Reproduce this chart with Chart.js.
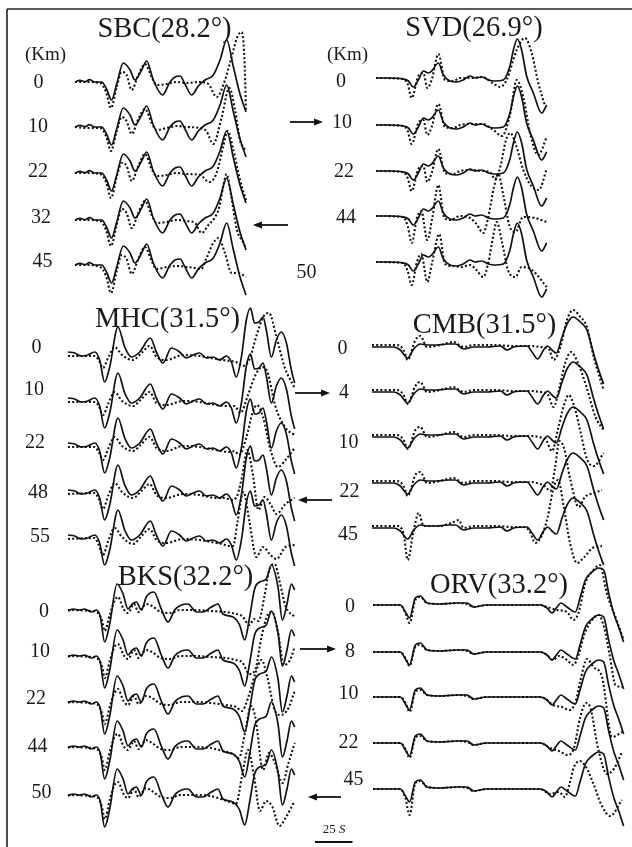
<!DOCTYPE html>
<html><head><meta charset="utf-8">
<script src="https://cdn.jsdelivr.net/npm/chart.js@4.4.1/dist/chart.umd.min.js"></script>
<style>
html,body{margin:0;padding:0;background:#fff;}
#wrap{position:relative;width:632px;height:847px;overflow:hidden;background:#fff;}
canvas{position:absolute;left:0;top:0;}
svg{position:absolute;left:0;top:0;}
text{font-family:"Liberation Serif","Times New Roman",serif;fill:#1a1a1a;}
</style></head><body><div id="wrap"></div>
<script>
// ---------- DATA: [time (s), amplitude] ----------
const TITLES = ["SBC(28.2°)","SVD(26.9°)","MHC(31.5°)","CMB(31.5°)","BKS(32.2°)","ORV(33.2°)"];
const SBC_DEPTHS = ["0","10","22","32","45"];
const SVD_DEPTHS = ["0","10","22","44","50"];
const MHC_DEPTHS = ["0","10","22","48","55"];
const CMB_DEPTHS = ["0","4","10","22","45"];
const BKS_DEPTHS = ["0","10","22","44","50"];
const ORV_DEPTHS = ["0","8","10","22","45"];
const UNIT_LABEL = "(Km)";
const SCALE_LABEL = "25";

// SBC
const SBC_OBS = [[0,0],[3.3,1.7],[6.7,0.3],[9.6,2.3],[13.3,0],[17.8,0],[21,-7],[24.4,-18],[27.8,-2],[32.2,19],[36.7,12],[40,2],[44.4,12],[47.8,21],[52.2,2],[58.4,-13],[63.3,0],[66.7,5],[70,6],[73.3,-2],[77.8,-13],[82.2,-4],[86.7,2],[92.2,7],[96.7,22],[101.1,42],[105.6,15],[110,-12],[114,-30]];
const SBC_SYN_0 = [[0,0],[7.8,0],[16.7,-1],[20.7,-10],[24,-26],[27.8,-5],[31.1,10],[34.4,7],[37.8,-8],[42.2,7],[46.7,18],[51.1,5],[54.4,-3],[61.1,-2],[67.8,0],[74.4,-1],[83.3,0],[88.9,-2],[94.4,-15],[100,2],[104.4,25],[108.2,45],[111.1,50],[112.9,25],[114,-28]];
const SBC_SYN_10 = [[0,0],[7.8,-1],[16.7,-1],[20.7,-9],[24,-24],[27.8,-4],[31.1,10],[34.4,6],[37.8,-7],[42.2,8],[46.7,18],[51.1,4],[54.4,-3],[61.1,-1],[67.8,1],[74.4,0],[83.3,-1],[87.5,-4],[92.2,-17],[97.8,10],[102.9,39],[106.7,17],[110,-13],[114,-24]];
const SBC_SYN_22 = [[0,0],[7.8,0],[16.7,-1],[20.7,-9],[24,-25],[27.8,-4],[31.1,10],[34.4,7],[37.8,-8],[42.2,7],[46.7,19],[51.1,4],[54.4,-3],[61.1,-2],[67.8,0],[74.4,-1],[83.3,-2],[89.6,-9],[94.4,0],[98.9,27],[101.8,42],[105.6,23],[110,-7],[114,-27]];
const SBC_SYN_32 = [[0,0],[7.8,0],[16.7,-1],[20.7,-10],[24,-26],[27.8,-5],[31.1,11],[34.4,7],[37.8,-8],[42.2,7],[46.7,19],[51.1,5],[54.4,-3],[61.1,-2],[67.8,0],[74.4,-1],[80,-3],[84.4,-13],[89,-5],[93,2],[96,12],[99,35],[101,46],[104,25],[108,-10],[112,-22],[114,-28]];
const SBC_SYN_45 = [[0,0],[7.8,0],[16.7,-2],[20.7,-11],[24,-28],[27.8,-6],[31.1,10],[34.4,6],[37.8,-9],[42.2,6],[46.7,18],[51.1,4],[54.4,-4],[61.1,-2],[67.8,-1],[74.4,-2],[80,-3],[84,-4],[88,8],[92.2,22],[95.6,27],[100,12],[104.4,-8],[108.9,-8],[114,-12]];

// SVD
const SVD_OBS = [[0,0],[9.3,0],[18,-1],[21.6,-3],[24.9,-9],[28.2,-2],[31.6,7],[34.9,5],[37.1,7],[41.6,15],[44.9,3],[49.3,-3],[53.8,-4],[58.2,-2],[62.7,2],[66,0],[70.4,1],[74.9,-2],[79.3,-3],[84.9,-2],[89.3,12],[91.6,28],[94.2,39],[97.1,28],[100.4,2],[104.9,-15],[110.4,-35],[113.8,-27]];
const SVD_SYN_0 = [[0,0],[18,-1],[21.1,-6],[23.8,-20],[28.2,2],[31.6,5],[34.2,-10],[37.1,-2],[41.6,24],[46,-2],[51.6,-3],[56,0],[62.7,0],[71.1,1],[77.8,-5],[82.7,-9],[87.1,-2],[93.8,28],[99.3,40],[103.8,25],[108.2,-5],[112.7,-28]];
const SVD_SYN_10 = [[0,0],[18,-1],[21.1,-6],[23.8,-19],[28.2,2],[31.6,5],[34.2,-10],[37.1,-2],[41.6,21],[46,-2],[51.6,-3],[56,0],[62.7,1],[71.1,1],[78.2,-5],[84,-11],[89.3,10],[93.8,45],[98.2,28],[102.7,-8],[108.2,-30],[113.8,-12]];
const SVD_SYN_22 = [[0,0],[18,-1],[21.1,-7],[23.8,-20],[28.2,2],[31.6,5],[34.2,-11],[37.1,-2],[41.6,22],[46,-2],[51.6,-3],[56,0],[62.7,1],[71.1,0],[76,-1],[79.3,-8],[83,5],[86.5,30],[89.5,38],[93.5,25],[98,2],[103,-14],[108.5,-19],[113.8,2]];
const SVD_SYN_44 = [[0,0],[18,-1],[21.1,-10],[23.8,-27],[27.3,-2],[30.2,5],[34.2,-24],[37.5,-2],[41.6,31],[45.5,-2],[50,-4],[56,0],[62.7,-2],[67,-8],[71.5,-17],[75,0],[78.5,28],[81.5,42],[85,20],[89,-10],[93,-16],[98,-1],[106,-2],[113.8,-6]];
const SVD_SYN_50 = [[0,0],[18,-1],[21.1,-9],[23.8,-23],[27.3,0],[30.2,8],[34.2,-20],[37.5,0],[42.2,28],[46,-2],[51,-4],[57,-5],[62.7,-3],[67,-8],[71.5,-15],[75,0],[78,25],[80.5,40],[84,20],[88,-8],[93,-15],[97,-5],[104,-8],[113.8,-25]];

// MHC
const MHC_OBS = [[0,2],[4.4,1],[8.9,-2],[13.3,-1],[17.8,2],[21.1,-6],[24.4,-28],[27.8,-13],[33.3,27],[37.8,7],[42.2,-3],[47.8,2],[54.9,16],[58.9,2],[63.3,-9],[68.9,6],[74.4,2],[78.9,-4],[83.3,-1],[87.8,1],[92.2,-4],[96.7,-3],[101.1,-6],[105.6,-2],[108.9,-8],[112.2,-23],[115.6,-3],[118.9,34],[121.6,46],[124.4,31],[127.3,32],[130,37],[132.2,24],[135.6,-3],[138.9,14],[142.2,22],[145.6,11],[148.9,-16],[151.1,-29]];
const MHC_SYN_0 = [[0,-2],[17.8,-2],[20.5,-6],[23.3,-14],[27,-3],[31.1,7],[36,-1],[43.3,-6],[49,1],[54.4,8],[59,-3],[65.6,-6],[76.7,-1],[87.8,-2],[98.9,-5],[107.8,-7],[112,-8],[116.5,-12],[121,-5],[126,20],[130.5,38],[134,41],[139,17],[144.4,-13],[151.1,-34]];
const MHC_SYN_10 = [[0,-2],[17.8,-2],[20.5,-6],[23.3,-15],[27,-3],[31.1,8],[36,-1],[43.3,-6],[49,1],[54.4,8],[59,-3],[65.6,-5],[76.7,-1],[87.8,-2],[98.9,-5],[107.8,-6],[111,-6],[115,-13],[120,5],[125,25],[129.5,33],[133,28],[138,-5],[145,-28],[151.1,-35]];
const MHC_SYN_22 = [[0,-2],[17.8,-2],[20.5,-7],[23.3,-15],[27,-3],[31.1,8],[36,-1],[43.3,-6],[49,1],[54.4,8],[59,-3],[65.6,-6],[76.7,-1],[87.8,-2],[98.9,-5],[107.8,-7],[111,-6],[114,-10],[119,8],[123,32],[126,40],[130,28],[135,-5],[140,-22],[145,-15],[151.1,-3]];
const MHC_SYN_48 = [[0,-2],[17.8,-1],[20.5,-7],[23.3,-17],[27,-3],[31.1,9],[36,0],[43.3,-6],[49,1],[54.4,8],[59,-3],[65.6,-6],[76.7,-2],[87.8,-3],[98.9,-6],[105,-6],[108.5,-8],[112,-6],[116,15],[119.5,42],[123,20],[127,-18],[131,-5],[135,-12],[139,-22],[145,-12],[151.1,-6]];
const MHC_SYN_55 = [[0,-2],[17.8,-1],[20.5,-8],[23.3,-18],[27,-3],[31.1,9],[36,0],[43.3,-7],[49,1],[54.4,8],[59,-3],[65.6,-6],[76.7,-2],[87.8,-3],[98.9,-6],[103,-7],[107,-9],[110,-9],[113,15],[117,45],[121,15],[125.6,-20],[130,-10],[135,-18],[139,-22],[145,-10],[151.1,-8]];

// CMB
const CMB_OBS = [[0,0],[14.4,0],[18.9,-3],[23.8,-11],[27.8,-2],[32.2,3],[36.7,2],[43.3,2],[50,3],[55.6,3],[61.1,-2],[67.8,0],[76.7,0],[85.6,1],[90,-3],[94.4,0],[103.3,1],[106.7,-5],[110.4,-12],[114.4,-3],[117.1,1],[120,-3],[122.9,-6],[126.7,10],[130,23],[134,30],[138.9,25],[143.3,17],[147.8,-7],[151.1,-23],[154.4,-37]];
const CMB_SYN_0 = [[0,2],[16.7,2],[21.1,-3],[23.8,-13],[28.9,7],[32.2,11],[36.7,0],[45.6,2],[54.4,5],[61.1,0],[67.8,2],[80.9,2],[94.4,1],[105.6,1],[112.2,0],[117.8,-2],[121.1,-13],[125.6,0],[130,27],[134,37],[138.9,30],[143.3,20],[147.8,-10],[154.4,-43]];
const CMB_SYN_4 = [[0,2],[16.7,2],[21.1,-3],[23.8,-12],[28.9,6],[32.2,10],[36.7,0],[45.6,2],[54.4,5],[61.1,0],[67.8,2],[80.9,2],[94.4,1],[105.6,1],[112.2,0],[117,-2],[121,-15],[125,5],[129,30],[132.7,40],[137,30],[143,5],[149,-25],[154.4,-38]];
const CMB_SYN_10 = [[0,2],[16.7,2],[21.1,-3],[23.8,-12],[28.9,7],[32.2,10],[36.7,0],[45.6,2],[54.4,5],[61.1,0],[67.8,2],[80.9,2],[94.4,1],[105.6,1],[111,0],[116,-3],[120,-14],[124,8],[128,32],[131.1,42],[135,30],[139,5],[143.3,-22],[148,-29],[154.4,-16]];
const CMB_SYN_22 = [[0,2],[16.7,2],[21.1,-3],[23.8,-13],[28.9,8],[32.2,11],[36.7,0],[45.6,2],[54.4,5],[61.1,0],[67.8,2],[80.9,2],[94.4,1],[105.6,1],[110,0],[115,-3],[119,-8],[122,15],[125,42],[128,35],[132,5],[137.8,-24],[142,-14],[148,-10],[153.3,-7]];
const CMB_SYN_45 = [[0,2],[16.7,2],[21.1,-6],[23.8,-32],[27.5,-5],[31.1,15],[34.5,2],[45.6,2],[54.4,6],[57.8,8],[61.1,0],[67.8,2],[80.9,2],[94.4,1],[101,1],[105,-3],[108.9,-15],[113,-8],[117,10],[121,40],[124,48],[128,20],[132,-15],[136.7,-35],[141,-30],[147,-20],[153.3,-18]];

// BKS
const BKS_OBS = [[0,0],[3.3,2],[7.8,1],[11.1,2],[15.6,-1],[18.9,1],[21.6,-6],[24.4,-31],[27.8,-13],[32.7,27],[36.7,17],[40,2],[42.9,7],[45.6,9],[48.9,1],[52.2,14],[57.3,19],[62.2,2],[66.7,-11],[71.1,1],[75.6,6],[80,7],[85.6,-1],[90,-1],[95.6,4],[100,7],[103.3,-3],[110,-6],[114.4,-14],[117.8,-29],[121.1,-6],[124.4,22],[127.8,29],[132.2,32],[135.6,46],[140,24],[142.9,-9],[146,7],[148.9,27],[151.1,21]];
const BKS_SYN_0 = [[0,1],[15.6,0],[20,-2],[22.8,-10],[24.4,-20],[28,-3],[31,10],[33.3,14],[37,2],[40,-2],[44,7],[47,-1],[52,7],[56,5],[62,-1],[68,-2],[75,1],[85,1],[95,0],[105,-1],[112,-3],[116,-5],[121,-14],[124,-8],[127,-10],[131,15],[134,40],[137.8,47],[141,30],[145,5],[151.1,-6]];
const BKS_SYN_10 = [[0,1],[15.6,0],[20,-2],[22.8,-10],[24.4,-21],[28,-3],[31,10],[33.3,13],[37,2],[40,-2],[44,7],[47,-1],[52,7],[56,5],[62,-1],[68,-2],[75,1],[85,1],[95,0],[105,-1],[112,-3],[116,-5],[121,-17],[125,-12],[129,20],[133,42],[136,45],[140,25],[144,-8],[148,-3],[151.1,10]];
const BKS_SYN_22 = [[0,1],[15.6,0],[20,-2],[22.8,-11],[24.4,-21],[28,-3],[31,10],[33.3,14],[37,2],[40,-2],[44,7],[47,-1],[52,7],[56,5],[62,-1],[68,-2],[75,1],[85,1],[95,0],[105,-2],[112,-4],[116,-8],[120,5],[125,30],[129,43],[133,25],[138,-8],[142,-12],[147,-5],[151.1,12]];
const BKS_SYN_44 = [[0,1],[15.6,0],[20,-2],[22.8,-11],[24.4,-22],[28,-3],[31,11],[33.3,14],[37,2],[40,-2],[44,7],[47,-1],[52,8],[56,5],[62,-1],[68,-2],[75,1],[85,1],[95,0],[103,-3],[110,-6],[114,-10],[118,15],[122,42],[125,30],[130,-22],[134,-5],[138,-15],[143,-35],[147,-15],[151.1,5]];
const BKS_SYN_50 = [[0,1],[15.6,0],[20,-2],[22.8,-12],[24.4,-23],[28,-3],[31,11],[33.3,14],[37,2],[40,-2],[44,7],[47,-1],[52,8],[56,5],[62,-1],[68,-2],[75,1],[85,1],[95,0],[102,-3],[108,-6],[112,-8],[116,20],[120,46],[124,20],[128,-15],[132,-5],[136,-10],[141,-30],[145,-22],[151.1,-5]];

// ORV
const ORV_OBS = [[0,0],[18.2,0],[21.6,-7],[24.4,-13],[28.2,7],[31.6,9],[36,2],[44.9,1],[56,2],[62.7,2],[67.1,-2],[75.6,0],[93.8,0],[111.6,0],[116,-3],[119.3,-8],[122.7,-2],[125.3,2],[129.3,-2],[134.9,-7],[138.2,8],[141.6,25],[146,33],[150.4,37],[153.8,35],[157.1,12],[160.4,-8],[163.8,-22],[167.1,-37]];
const ORV_SYN_0 = [[0,0],[18.2,0],[21.6,-8],[24.4,-18],[28.2,5],[31.6,8],[36,2],[44.9,1],[56,2],[62.7,1],[67.1,-2],[75.6,0],[93.8,0],[111.6,0],[116,-2],[122.7,-5],[129.3,-7],[133.6,-15],[137,-8],[141.6,22],[147,35],[151.3,40],[155.8,12],[161.6,-12],[167.1,-35]];
const ORV_SYN_8 = [[0,0],[18.2,0],[21.6,-6],[24.4,-14],[28.2,5],[31.6,7],[36,2],[44.9,1],[56,2],[62.7,1],[67.1,-2],[75.6,0],[93.8,0],[111.6,0],[116,-3],[120,-8],[124,-4],[129.3,-8],[133.6,-13],[137,-3],[141,18],[146,32],[150.4,37],[154,25],[158,-5],[161.6,-33],[166.2,-35]];
const ORV_SYN_10 = [[0,0],[18.2,0],[21.6,-6],[24.4,-15],[28.2,5],[31.6,7],[36,2],[44.9,1],[56,2],[62.7,1],[67.1,-2],[75.6,0],[93.8,0],[111.6,0],[116,-3],[120,-8],[126,-10],[131,-13],[135,-5],[138,15],[142.7,38],[147,30],[152.7,20],[159.3,-40],[166,-35]];
const ORV_SYN_22 = [[0,0],[18.2,0],[21.6,-6],[24.4,-15],[28.2,5],[31.6,7],[36,2],[44.9,1],[56,2],[62.7,1],[67.1,-2],[75.6,0],[93.8,0],[111.6,0],[118,-5],[124,-8],[130,-12],[134,-5],[138,25],[142,40],[145,35],[150,-5],[156,-31],[161,-25],[166,-9]];
const ORV_SYN_45 = [[0,0],[18.2,0],[21.6,-9],[24.4,-26],[28.2,6],[31.6,8],[36,2],[44.9,1],[56,2],[62.7,1],[67.1,-2],[75.6,0],[93.8,0],[111.6,0],[118,-5],[124,-3],[128,-8],[131,5],[134,22],[138,28],[142,22],[147,5],[152,-15],[158,-27],[166,-11]];

// ---------- LAYOUT ----------
const W = 632, H = 847;
const PX_PER_S = 1.5;      // 25 s ~ 37.5 px
const PX_PER_AMP = 1;
const PANELS = [
  {title:TITLES[0], depths:SBC_DEPTHS, obs:SBC_OBS, syn:[SBC_SYN_0,SBC_SYN_10,SBC_SYN_22,SBC_SYN_32,SBC_SYN_45],
   x0:75, base:[82,127,173,220,265], tx:164.5, ty:37, lx:[38.5,38,38,41,42.5], ly:[88,132,177,223,267]},
  {title:TITLES[1], depths:SVD_DEPTHS, obs:SVD_OBS, syn:[SVD_SYN_0,SVD_SYN_10,SVD_SYN_22,SVD_SYN_44,SVD_SYN_50],
   x0:376, base:[78,125,171,216,262], tx:474, ty:36, lx:[341,342,344,346,306.5], ly:[87,128,177,223,278]},
  {title:TITLES[2], depths:MHC_DEPTHS, obs:MHC_OBS, syn:[MHC_SYN_0,MHC_SYN_10,MHC_SYN_22,MHC_SYN_48,MHC_SYN_55],
   x0:68, base:[354,400,445,492,537], tx:167.5, ty:327, lx:[36.5,34,35,38,40], ly:[353,395,448,498,542]},
  {title:TITLES[3], depths:CMB_DEPTHS, obs:CMB_OBS, syn:[CMB_SYN_0,CMB_SYN_4,CMB_SYN_10,CMB_SYN_22,CMB_SYN_45],
   x0:372, base:[347,392,437,483,528], tx:484.5, ty:333, lx:[342.5,344,348.5,349.5,348], ly:[354,398,448,497,540]},
  {title:TITLES[4], depths:BKS_DEPTHS, obs:BKS_OBS, syn:[BKS_SYN_0,BKS_SYN_10,BKS_SYN_22,BKS_SYN_44,BKS_SYN_50],
   x0:68, base:[611,657,703,748,796], tx:185.5, ty:585, lx:[44,40,36,37.5,41.5], ly:[617,657,704,752,798]},
  {title:TITLES[5], depths:ORV_DEPTHS, obs:ORV_OBS, syn:[ORV_SYN_0,ORV_SYN_8,ORV_SYN_10,ORV_SYN_22,ORV_SYN_45],
   x0:373, base:[605,652,697,743,789], tx:499, ty:593, lx:[350,350,348.5,348.5,353.5], ly:[612,657,699,748,785]}
];
const KM_POS = [[45.5,60],[347.5,60]];
const ARROWS = [ // [tailX, tailY, headX, headY]
  [290,122,323,122],[288,225,253,225],
  [295,393,330,393],[332,500,298,500],
  [300,649,336,649],[341,797,308,797]
];

const wrap = document.getElementById('wrap');

PANELS.forEach(p => {
  const cv = document.createElement('canvas');
  cv.width = W; cv.height = H;
  cv.style.width = W+'px'; cv.style.height = H+'px';
  wrap.appendChild(cv);
  const b0 = p.base[0];
  const datasets = [];
  p.syn.forEach((s, k) => {
    const off = (p.base[k] - b0) / PX_PER_AMP;
    datasets.push({data: s.map(([t,a]) => ({x:t, y:a - off})), borderColor:'#111', borderWidth:2.1,
      borderDash:[2,2.2], fill:false, clip:false, pointRadius:0});
    datasets.push({data: p.obs.map(([t,a]) => ({x:t, y:a - off})), borderColor:'#111', borderWidth:1.7,
      fill:false, clip:false, pointRadius:0});
  });
  new Chart(cv, {
    type:'line',
    data:{datasets},
    options:{
      responsive:false, animation:false, events:[],
      layout:{padding:0, autoPadding:false},
      plugins:{legend:{display:false}, tooltip:{enabled:false}, title:{display:false}},
      elements:{point:{radius:0}, line:{cubicInterpolationMode:'monotone', borderCapStyle:'butt', borderJoinStyle:'round'}},
      scales:{
        x:{type:'linear', display:false, min:-p.x0/PX_PER_S, max:(W-p.x0)/PX_PER_S},
        y:{type:'linear', display:false, min:(b0-H)/PX_PER_AMP, max:b0/PX_PER_AMP}
      }
    }
  });
});

// ---------- TEXT / ANNOTATIONS (SVG) ----------
const NS = 'http://www.w3.org/2000/svg';
const svg = document.createElementNS(NS,'svg');
svg.setAttribute('width',W); svg.setAttribute('height',H);
wrap.appendChild(svg);
function el(tag, attrs, txt){
  const e = document.createElementNS(NS, tag);
  for (const k in attrs) e.setAttribute(k, attrs[k]);
  if (txt !== undefined) e.textContent = txt;
  svg.appendChild(e); return e;
}
// frame (top and left edges)
el('line',{x1:7,y1:9,x2:W,y2:9,stroke:'#222','stroke-width':1.6});
el('line',{x1:7,y1:9,x2:7,y2:H,stroke:'#222','stroke-width':1.6});

PANELS.forEach(p => {
  el('text',{x:p.tx,y:p.ty,'text-anchor':'middle','font-size':28.5}, p.title);
  p.depths.forEach((d,i) => el('text',{x:p.lx[i],y:p.ly[i],'text-anchor':'middle','font-size':20}, d));
});
KM_POS.forEach(([x,y]) => el('text',{x,y,'text-anchor':'middle','font-size':19}, UNIT_LABEL));

ARROWS.forEach(([x1,y1,x2,y2]) => {
  const dir = Math.sign(x2-x1);
  el('line',{x1,y1,x2:x2-dir*7,y2,stroke:'#111','stroke-width':1.8});
  el('polygon',{points:`${x2},${y2} ${x2-dir*9},${y2-3.5} ${x2-dir*9},${y2+3.5}`, fill:'#111'});
});

// time scale bar
const sbLen = 25 * PX_PER_S;
el('line',{x1:315,y1:842,x2:315+sbLen,y2:842,stroke:'#111','stroke-width':1.8});
const t = el('text',{x:334,y:833,'text-anchor':'middle','font-size':13});
const t1 = document.createElementNS(NS,'tspan'); t1.textContent = SCALE_LABEL + ' '; t.appendChild(t1);
const t2 = document.createElementNS(NS,'tspan'); t2.setAttribute('font-style','italic'); t2.textContent = 'S'; t.appendChild(t2);
</script></body></html>
